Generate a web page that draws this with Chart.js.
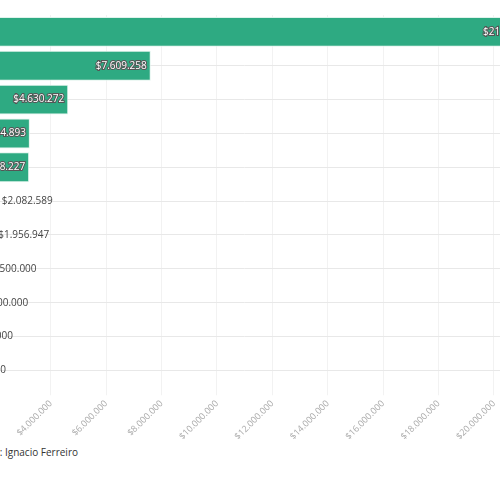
<!DOCTYPE html>
<html>
<head>
<meta charset="utf-8">
<script src="https://cdn.jsdelivr.net/npm/chart.js@4"></script>
<style>
body{margin:0;background:#fff;overflow:hidden;width:500px;height:500px;position:relative;font-family:"Open Sans",sans-serif}
#wrap{position:absolute;left:-200px;top:0;width:760px;height:445px}
#src{position:absolute;right:422px;top:445px;font-size:10px;color:#333;white-space:nowrap}
</style>
</head>
<body>
<div id="wrap"><canvas id="c"></canvas></div>
<div id="src">Elaboración: Ignacio Ferreiro</div>
<script>
// ===== DATA =====
const categories = ["A","B","C","D","E","F","G","H","I","J","K"];
const values = [21800000, 7609258, 4630272, 3244893, 3218227, 2082589, 1956947, 1500000, 1200000, 950000, 700000];
const tickValues = [0,2000000,4000000,6000000,8000000,10000000,12000000,14000000,16000000,18000000,20000000,22000000];

function money(v){
    return "$" + v.toString().replace(/\B(?=(\d{3})+(?!\d))/g, ".");
}

// ===== LABELS =====
const labelPlugin = {
    id: "labels",
    afterDatasetsDraw(chart){
        const ctx = chart.ctx;
        const meta = chart.getDatasetMeta(0);
        ctx.save();
        ctx.font = "10px 'Open Sans'";
        ctx.textBaseline = "middle";
        meta.data.forEach((bar, i) => {
            let txt = money(values[i]);
            let w = ctx.measureText(txt).width;
            if(bar.x - bar.base > w + 10){
                ctx.textAlign = "right";
                ctx.lineWidth = 2;
                ctx.strokeStyle = "#555";
                ctx.strokeText(txt, bar.x - 4, bar.y);
                ctx.fillStyle = "#fff";
                ctx.fillText(txt, bar.x - 4, bar.y);
            }else{
                ctx.textAlign = "left";
                ctx.fillStyle = "#444";
                ctx.fillText(txt, bar.x + 4, bar.y);
            }
        });
        ctx.restore();
    }
};

new Chart(document.getElementById("c"), {
    type: "bar",
    data: {
        labels: categories,
        datasets: [{
            data: values,
            backgroundColor: "#2eaa82",
            borderColor: "#dff3ec",
            borderWidth: 1,
            categoryPercentage: 0.92,
            barPercentage: 0.96
        }]
    },
    options: {
        indexAxis: "y",
        responsive: true,
        maintainAspectRatio: false,
        animation: false,
        layout: {padding: {left: 132, right: 5, top: 15}},
        plugins: {legend: {display: false}, tooltip: {enabled: false}},
        scales: {
            x: {
                min: 0, max: 22000000,
                afterBuildTicks: ax => { ax.ticks = tickValues.map(v => ({value: v})); },
                grid: {color: "#f2f2f2"},
                border: {display: false},
                ticks: {
                    minRotation: 45, maxRotation: 45,
                    color: "#aaa",
                    font: {size: 9, family: "Open Sans"},
                    callback: v => money(v)
                }
            },
            y: {
                grid: {offset: false, color: "#e8e8e8"},
                border: {display: false},
                ticks: {display: false}
            }
        }
    },
    plugins: [labelPlugin]
});
</script>
</body>
</html>
